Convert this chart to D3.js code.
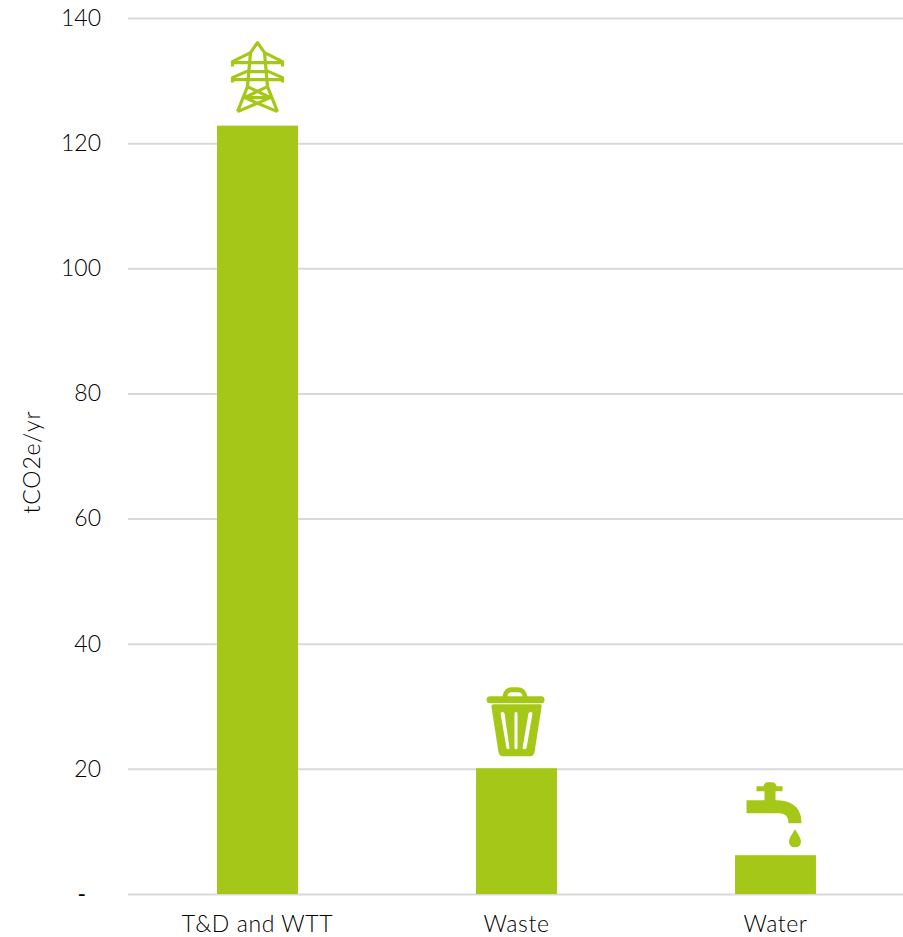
<!DOCTYPE html>
<html><head><meta charset="utf-8">
<script src="https://cdn.jsdelivr.net/npm/d3@7"></script>
<style>html,body{margin:0;padding:0;background:#fff}svg{display:block}
text{font-family:"Lato","Open Sans",sans-serif;font-size:23px;font-weight:300;fill:#000}</style></head>
<body><svg id="c" width="903" height="937"></svg>
<script>
const categories=["T&D and WTT","Waste","Water"];
const values=[122.8,20.1,6.2];
const yTicks=[0,20,40,60,80,100,120,140];
const yTitle="tCO2e/yr";
const green="#a5c818", grid="#d9d9d9";
const font='"Lato","Open Sans",sans-serif';
const svg=d3.select("#c");
const x=d3.scaleBand().domain(categories).range([128,905]).paddingInner(0.6875).paddingOuter(0.34375);
const y=d3.scaleLinear().domain([0,140]).range([894,18]);

const gy=svg.append("g").attr("transform","translate(128,0)")
 .call(d3.axisLeft(y).tickValues(yTicks).tickSize(0).tickPadding(27).tickFormat(d=>d===0?"-":d));
gy.select(".domain").remove();
gy.selectAll("text").style("font-size","23px").style("font-family",font).style("font-weight",300);
gy.selectAll(".tick").filter(d=>d===0).select("text").attr("dx",-15).style("font-weight",400);
gy.selectAll(".tick").append("line").attr("x1",0).attr("x2",775).attr("stroke",grid).attr("stroke-width",2);

svg.append("g").selectAll("rect").data(values).join("rect")
 .attr("x",(d,i)=>x(categories[i])).attr("width",x.bandwidth())
 .attr("y",d=>y(d)).attr("height",d=>y(0)-y(d)).attr("fill",green);

const gx=svg.append("g").attr("transform","translate(0,894)")
 .call(d3.axisBottom(x).tickSize(0).tickPadding(22));
gx.select(".domain").remove();
gx.selectAll("text").style("font-size","23px").style("font-family",font).style("font-weight",300)
 .style("letter-spacing","0.6px");

svg.append("text").attr("transform","translate(40,462) rotate(-90)").attr("text-anchor","middle")
 .style("letter-spacing","0.8px").text(yTitle);

// icons, drawn relative to the top centre of each bar
const cx=i=>x(categories[i])+x.bandwidth()/2;
const tower=svg.append("g").attr("transform",`translate(${cx(0)},${y(values[0])})`)
 .attr("fill","none").attr("stroke",green).attr("stroke-width",3.2).attr("stroke-linejoin","round");
tower.append("path").attr("d",
 "M-20,-14 L-10,-39 L-7,-73 L0,-83 L7,-73 L10,-39 L20,-14 "+
 "M-25,-59 L-25,-64 L-7,-73 M25,-59 L25,-64 L7,-73 M-25,-63 L25,-63 "+
 "M-25,-43 L-25,-48 L-9,-55 M25,-43 L25,-48 L9,-55 M-9,-54 L9,-54 M-25,-46 L25,-46 "+
 "M-10,-39 L13,-28 L-20,-14 M10,-39 L-13,-28 L20,-14 M-13,-28 L13,-28");

const bin=svg.append("g").attr("transform",`translate(${cx(1)},${y(values[1])})`);
bin.append("path").attr("fill",green).attr("fill-rule","evenodd").attr("d",
 "M-30,-68.5 Q-30,-65 -26,-65 L25,-65 Q28,-65 28,-68.5 Q28,-72 25,-72 L11,-72 Q9,-81 1,-81 L-5,-81 Q-12,-81 -14,-72 L-26,-72 Q-30,-72 -30,-68.5 Z M-9,-72 L6,-72 Q6,-76 1,-76 L-5,-76 Q-9,-76 -9,-72 Z "+
 "M-23,-64 L24,-64 Q25.5,-64 25,-61 L18,-16 Q17,-12 14,-12 L-14,-12 Q-17,-12 -18,-16 L-25,-61 Q-25.5,-64 -23,-64 Z "+
 "M-16,-55 L-10,-20 Q-8,-18 -7,-20 L-12,-55 Q-14,-58 -16,-55 Z M-2,-55 L-2,-20 Q-0.5,-18 1,-20 L1,-55 Q-0.5,-58 -2,-55 Z M12,-55 L6,-20 Q8,-18 10,-20 L16,-55 Q14,-58 12,-55 Z");

const tap=svg.append("g").attr("transform",`translate(${cx(2)},${y(values[2])})`);
tap.append("path").attr("fill",green).attr("d",
 "M-29,-55 L-29,-42 L4,-42 Q13,-42 13,-32 L26,-32 Q26,-54 2,-55 L0,-55 L0,-64 L7,-64 L7,-69 L1,-69 Q0,-73 -3,-73 L-8,-73 Q-11,-73 -12,-69 L-19,-69 L-19,-64 L-11,-64 L-11,-55 Z "+
 "M19.5,-26 Q13.5,-17 13.5,-14 Q13.5,-8 19.5,-8 Q25.5,-8 25.5,-14 Q25.5,-17 19.5,-26 Z");
</script></body></html>
